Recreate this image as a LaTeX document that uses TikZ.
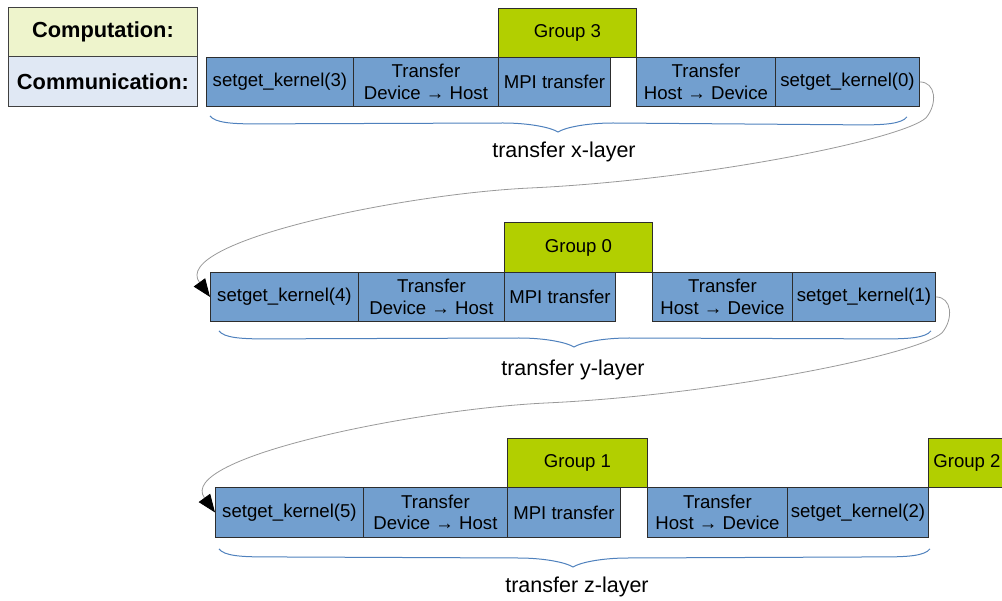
\documentclass[tikz,border=0pt]{standalone}
\usepackage{fontspec}
\setmainfont{Liberation Sans}
\usetikzlibrary{calc,arrows.meta}

\definecolor{commblue}{RGB}{114,159,207}
\definecolor{compgreen}{RGB}{178,207,0}
\definecolor{legcomp}{RGB}{238,244,204}
\definecolor{legcomm}{RGB}{224,232,244}
\definecolor{bracecol}{RGB}{79,129,189}
\definecolor{edgecol}{RGB}{45,45,45}

\tikzset{
  cell/.style={draw=edgecol, line width=0.9pt, inner sep=0pt, anchor=north west,
    align=center, font=\fontsize{18.6}{21.5}\selectfont, text=black},
  comm/.style={cell, fill=commblue, minimum height=49pt},
  comp/.style={cell, fill=compgreen, minimum height=49pt},
  legend/.style={draw=black!75, line width=0.9pt, inner sep=0pt, anchor=north west,
    minimum width=189pt, font=\fontsize{21.8}{24}\selectfont\bfseries},
  layerlabel/.style={font=\fontsize{21.5}{24}\selectfont},
  link/.style={draw=black!40, line width=0.8pt,
    -{Triangle[length=18pt,width=14pt,color=black]}},
  bracepath/.style={draw=bracecol, line width=1pt}
}

% curly brace under a row, from point #1 to point #2, tip at #3
\newcommand{\rowbrace}[3]{%
  \draw[bracepath] #1 .. controls +(5,7) and +(-22,0) .. +(45,8)
    -- ($#3+(-55,-9)$) .. controls +(28,0) and +(-6,-4) .. #3
    .. controls +(6,-4) and +(-28,0) .. ($#3+(55,-9)$)
    -- ($#2+(-45,8)$) .. controls +(22,0) and +(-5,7) .. #2;}

\begin{document}
\begin{tikzpicture}[x=1pt,y=-1pt]
\useasboundingbox (0,0) rectangle (1002,601);
\clip (0,0) rectangle (1002,601);

% legend
\node[legend, fill=legcomp, minimum height=49pt] (legcomp) at (8,7) {Computation:};
\node[legend, fill=legcomm, minimum height=50pt] (legcomm) at (8,56) {Communication:};

% x-layer row
\node[comp, minimum width=138pt] (g3) at (498,8) {Group 3};
\node[comm, minimum width=147pt] (k3) at (206,57) {setget\_kernel(3)};
\node[comm, minimum width=145pt] (t1) at (353,57) {Transfer\\Device → Host};
\node[comm, minimum width=112pt] (m1) at (498,57) {MPI transfer};
\node[comm, minimum width=139pt] (h1) at (636,57) {Transfer\\Host → Device};
\node[comm, minimum width=144pt] (k0) at (775,57) {setget\_kernel(0)};

% y-layer row
\node[comp, minimum width=148pt, minimum height=50pt] (g0) at (504,222) {Group 0};
\node[comm, minimum width=148pt] (k4) at (210,272) {setget\_kernel(4)};
\node[comm, minimum width=146pt] (t2) at (358,272) {Transfer\\Device → Host};
\node[comm, minimum width=111pt] (m2) at (504,272) {MPI transfer};
\node[comm, minimum width=140pt] (h2) at (652,272) {Transfer\\Host → Device};
\node[comm, minimum width=143pt] (k1) at (792,272) {setget\_kernel(1)};

% z-layer row
\node[comp, minimum width=140pt] (g1) at (507,438) {Group 1};
\node[comp, minimum width=77pt] (g2) at (928,438) {Group 2};
\node[comm, minimum width=148pt, minimum height=50pt] (k5) at (215,487) {setget\_kernel(5)};
\node[comm, minimum width=144pt, minimum height=50pt] (t3) at (363,487) {Transfer\\Device → Host};
\node[comm, minimum width=113pt, minimum height=50pt] (m3) at (507,487) {MPI transfer};
\node[comm, minimum width=140pt, minimum height=50pt] (h3) at (647,487) {Transfer\\Host → Device};
\node[comm, minimum width=141pt, minimum height=50pt] (k2) at (787,487) {setget\_kernel(2)};

% braces and their labels
\coordinate (bx1) at ($(k3.south west)+(4,9)$);
\coordinate (bx2) at ($(k0.south east)+(-13,10)$);
\coordinate (bxt) at (558,132);
\rowbrace{(bx1)}{(bx2)}{(bxt)}
\node[layerlabel] (lx) at (564,152) {transfer x-layer};

\coordinate (by1) at ($(k4.south west)+(9,9)$);
\coordinate (by2) at ($(k1.south east)+(-5,9)$);
\coordinate (byt) at (574,347);
\rowbrace{(by1)}{(by2)}{(byt)}
\node[layerlabel] (ly) at (573,370) {transfer y-layer};

\coordinate (bz1) at ($(k5.south west)+(4,11)$);
\coordinate (bz2) at ($(k2.south east)+(1,11)$);
\coordinate (bzt) at (573,567);
\rowbrace{(bz1)}{(bz2)}{(bzt)}
\node[layerlabel] (lz) at (577,587) {transfer z-layer};

% hand-over from one layer to the next
\draw[link] (k0.east)
  .. controls ($(k0.east)+(16,0)$) and ($(k0.east)+(18,22)$) .. ($(k0.east)+(6,36)$)
  .. controls ($(k0.east)+(-19,58)$) and ($(k0.east)+(-219,98)$) .. ($(k0.east)+(-389,106)$)
  .. controls ($(k0.east)+(-519,112)$) and ($(k4.west)+(-40,-55)$) .. (k4.west);
\draw[link] (k1.east)
  .. controls ($(k1.east)+(16,0)$) and ($(k1.east)+(18,22)$) .. ($(k1.east)+(6,36)$)
  .. controls ($(k1.east)+(-19,58)$) and ($(k1.east)+(-219,98)$) .. ($(k1.east)+(-389,106)$)
  .. controls ($(k1.east)+(-519,112)$) and ($(k5.west)+(-40,-55)$) .. (k5.west);
\end{tikzpicture}
\end{document}
